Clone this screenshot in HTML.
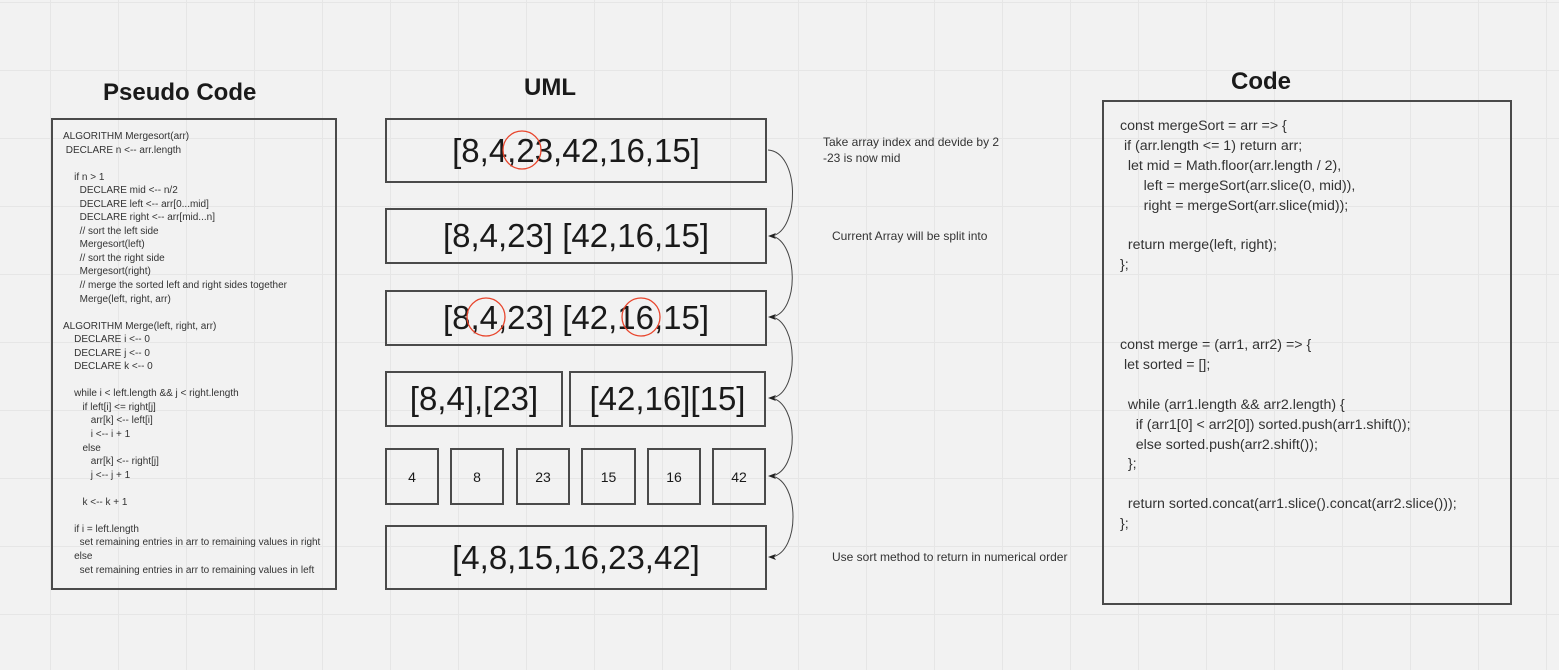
<!DOCTYPE html>
<html><head><meta charset="utf-8"><style>
html,body{margin:0;padding:0;background:#f2f2f2;}
body{width:1559px;height:670px;overflow:hidden;position:relative;font-family:"Liberation Sans",sans-serif;color:#333;}
.grid{position:absolute;left:0;top:0;width:1559px;height:670px;
background-image:linear-gradient(to right,#e6e6e6 1px,transparent 1px),linear-gradient(to bottom,#e6e6e6 1px,transparent 1px);
background-size:68px 68px;background-position:50px 2px;}
.t{position:absolute;font-weight:bold;font-size:24px;color:#1a1a1a;}
.box{position:absolute;border:2px solid #4a4a4a;box-sizing:border-box;}
pre{margin:0;font-family:"Liberation Sans",sans-serif;position:absolute;}
.u{position:absolute;border:2px solid #4a4a4a;box-sizing:border-box;display:flex;align-items:center;justify-content:center;color:#1a1a1a;}
.note{position:absolute;font-size:12px;color:#333;line-height:16px;}
</style></head><body>
<div class="grid"></div>
<div class="t" style="left:103px;top:79px;">Pseudo Code</div>
<div class="t" style="left:524px;top:74px;">UML</div>
<div class="t" style="left:1231px;top:68px;">Code</div>

<div class="box" style="left:51px;top:118px;width:286px;height:472px;"></div>
<pre style="left:63px;top:130px;font-size:10px;line-height:13.55px;">ALGORITHM Mergesort(arr)
 DECLARE n &lt;-- arr.length

    if n &gt; 1
      DECLARE mid &lt;-- n/2
      DECLARE left &lt;-- arr[0...mid]
      DECLARE right &lt;-- arr[mid...n]
      // sort the left side
      Mergesort(left)
      // sort the right side
      Mergesort(right)
      // merge the sorted left and right sides together
      Merge(left, right, arr)

ALGORITHM Merge(left, right, arr)
    DECLARE i &lt;-- 0
    DECLARE j &lt;-- 0
    DECLARE k &lt;-- 0

    while i &lt; left.length &amp;&amp; j &lt; right.length
       if left[i] &lt;= right[j]
          arr[k] &lt;-- left[i]
          i &lt;-- i + 1
       else
          arr[k] &lt;-- right[j]
          j &lt;-- j + 1

       k &lt;-- k + 1

    if i = left.length
      set remaining entries in arr to remaining values in right
    else
      set remaining entries in arr to remaining values in left</pre>

<div class="u" style="left:385px;top:118px;width:382px;height:65px;font-size:33px;">[8,4,23,42,16,15]</div>
<div class="u" style="left:385px;top:208px;width:382px;height:56px;font-size:33px;">[8,4,23] [42,16,15]</div>
<div class="u" style="left:385px;top:290px;width:382px;height:56px;font-size:33px;">[8,4,23] [42,16,15]</div>
<div class="u" style="left:385px;top:371px;width:178px;height:56px;font-size:33px;">[8,4],[23]</div>
<div class="u" style="left:569px;top:371px;width:197px;height:56px;font-size:33px;">[42,16][15]</div>
<div class="u" style="left:385px;top:448px;width:54px;height:57px;font-size:14px;">4</div>
<div class="u" style="left:450px;top:448px;width:54px;height:57px;font-size:14px;">8</div>
<div class="u" style="left:516px;top:448px;width:54px;height:57px;font-size:14px;">23</div>
<div class="u" style="left:581px;top:448px;width:55px;height:57px;font-size:14px;">15</div>
<div class="u" style="left:647px;top:448px;width:54px;height:57px;font-size:14px;">16</div>
<div class="u" style="left:712px;top:448px;width:54px;height:57px;font-size:14px;">42</div>
<div class="u" style="left:385px;top:525px;width:382px;height:65px;font-size:33px;">[4,8,15,16,23,42]</div>

<svg style="position:absolute;left:0;top:0" width="1559" height="670">
<g fill="none" stroke="#e8452c" stroke-width="1.3">
<circle cx="522" cy="150" r="19"/>
<circle cx="486" cy="317" r="19"/>
<circle cx="641" cy="317" r="19"/>
</g>
<g fill="none" stroke="#444" stroke-width="1">
<path d="M768 150 C800 152,800 230,772 236"/>
<path d="M772 236 C798 242,800 312,772 317"/>
<path d="M772 317 C798 322,800 393,772 398"/>
<path d="M772 398 C798 404,800 470,772 476"/>
<path d="M772 476 C800 482,800 552,772 557"/>
</g>
<g fill="#222">
<path d="M768 236 l8 -3 l-2 3 l2 3z"/>
<path d="M768 317 l8 -3 l-2 3 l2 3z"/>
<path d="M768 398 l8 -3 l-2 3 l2 3z"/>
<path d="M768 476 l8 -3 l-2 3 l2 3z"/>
<path d="M768 557 l8 -3 l-2 3 l2 3z"/>
</g>
</svg>

<div class="note" style="left:823px;top:134px;">Take array index and devide by 2<br>-23 is now mid</div>
<div class="note" style="left:832px;top:228px;">Current Array will be split into</div>
<div class="note" style="left:832px;top:549px;">Use sort method to return in numerical order</div>

<div class="box" style="left:1102px;top:100px;width:410px;height:505px;"></div>
<pre style="left:1120px;top:117px;font-size:14.2px;line-height:19.9px;">const mergeSort = arr =&gt; {
 if (arr.length &lt;= 1) return arr;
  let mid = Math.floor(arr.length / 2),
      left = mergeSort(arr.slice(0, mid)),
      right = mergeSort(arr.slice(mid));

  return merge(left, right);
};



const merge = (arr1, arr2) =&gt; {
 let sorted = [];

  while (arr1.length &amp;&amp; arr2.length) {
    if (arr1[0] &lt; arr2[0]) sorted.push(arr1.shift());
    else sorted.push(arr2.shift());
  };

  return sorted.concat(arr1.slice().concat(arr2.slice()));
};</pre>
</body></html>
